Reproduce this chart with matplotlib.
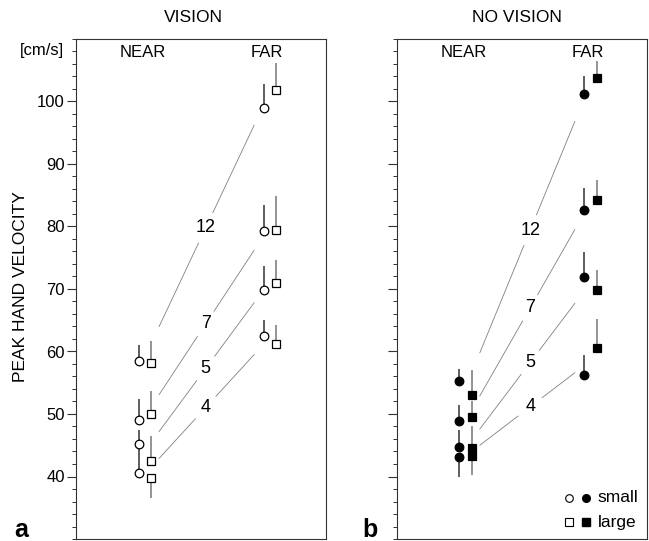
import matplotlib.pyplot as plt
from matplotlib.ticker import MultipleLocator, FixedLocator

plt.rcParams['font.family'] = ['Liberation Sans', 'DejaVu Sans']

# sizes (labels of the connecting lines), order shared by every list below
sizes = ['12', '7', '5', '4']

# VISION panel: means and end of the one-sided error bar
vis_near_small = [58.5, 49.0, 45.2, 40.5]
vis_near_small_err = [61.1, 52.4, 47.4, 44.8]
vis_near_large = [58.2, 50.0, 42.4, 39.7]
vis_near_large_err = [61.6, 53.6, 46.5, 36.6]
vis_far_small = [99.0, 79.3, 69.8, 62.4]
vis_far_small_err = [102.8, 83.4, 73.6, 65.0]
vis_far_large = [101.9, 79.4, 71.0, 61.2]
vis_far_large_err = [106.2, 84.8, 74.6, 64.3]
vis_line_near = [64.0, 53.1, 47.2, 42.9]
vis_line_far = [96.2, 76.2, 67.8, 59.5]

# NO VISION panel
nv_near_small = [55.2, 48.9, 44.7, 43.1]
nv_near_small_err = [57.2, 51.5, 47.5, 40.0]
nv_near_large = [53.0, 49.5, 44.6, 43.2]
nv_near_large_err = [57.1, 52.0, 48.1, 40.3]
nv_far_small = [101.2, 82.7, 71.9, 56.3]
nv_far_small_err = [104.1, 86.2, 75.9, 59.4]
nv_far_large = [103.8, 84.2, 69.8, 60.6]
nv_far_large_err = [106.4, 87.4, 73.1, 65.2]
nv_line_near = [59.8, 52.9, 47.6, 45.0]
nv_line_far = [96.8, 79.5, 67.7, 56.6]

# x positions: near / far, small (circle) and large (square) side by side
X_NEAR, X_FAR, OFFSET = 1.0, 3.0, 0.2
LINE_X0, LINE_X1 = 1.33, 2.85

fig = plt.figure(figsize=(6.49, 5.41), dpi=100)
ax1 = fig.add_axes([76 / 649, 2 / 541, 250 / 649, 500 / 541])
ax2 = fig.add_axes([396.7 / 649, 2 / 541, 250 / 649, 500 / 541])


def draw_panel(ax, filled, near_s, near_s_err, near_l, near_l_err,
               far_s, far_s_err, far_l, far_l_err, line_near, line_far, t_lab):
    face = 'black' if filled else 'white'
    groups = [
        (X_NEAR, near_s, near_s_err, 'o', '#333333'),
        (X_NEAR + OFFSET, near_l, near_l_err, 's', '#777777'),
        (X_FAR, far_s, far_s_err, 'o', '#333333'),
        (X_FAR + OFFSET, far_l, far_l_err, 's', '#777777'),
    ]
    for x, vals, errs, mk, bar_col in groups:
        xs = [x] * len(vals)
        ax.vlines(xs, vals, errs, color=bar_col, lw=1.1, zorder=2)
        ax.plot(xs, vals, ls='none', marker=mk, ms=6.2 if mk == 'o' else 6.0,
                mfc=face, mec='black', mew=0.9, zorder=3)

    # thin lines joining near and far, labelled with the size
    for lab, y0, y1 in zip(sizes, line_near, line_far):
        ax.plot([LINE_X0, LINE_X1], [y0, y1], color='#808080', lw=0.6, zorder=1)
        xm = LINE_X0 + t_lab * (LINE_X1 - LINE_X0)
        ym = y0 + t_lab * (y1 - y0)
        ax.text(xm, ym, lab, fontsize=13, ha='center', va='center', zorder=2,
                bbox=dict(boxstyle='circle,pad=0.35', fc='white', ec='none'))

    ax.text(1.07, 107.9, 'NEAR', fontsize=12, ha='center', va='center')
    ax.text(3.06, 107.9, 'FAR', fontsize=12, ha='center', va='center')

    ax.set_xlim(0, 4)
    ax.set_ylim(30, 110)
    ax.set_xticks([])
    ax.yaxis.set_major_locator(FixedLocator([40, 50, 60, 70, 80, 90, 100]))
    ax.yaxis.set_minor_locator(MultipleLocator(2))
    ax.tick_params(axis='y', which='major', length=6.5, width=0.8,
                   labelsize=12, pad=1.5, color='#333333')
    ax.tick_params(axis='y', which='minor', length=3, width=0.7, color='#333333')
    for sp in ax.spines.values():
        sp.set_linewidth(0.8)
        sp.set_color('#333333')


draw_panel(ax1, False, vis_near_small, vis_near_small_err, vis_near_large,
           vis_near_large_err, vis_far_small, vis_far_small_err, vis_far_large,
           vis_far_large_err, vis_line_near, vis_line_far, 0.49)
draw_panel(ax2, True, nv_near_small, nv_near_small_err, nv_near_large,
           nv_near_large_err, nv_far_small, nv_far_small_err, nv_far_large,
           nv_far_large_err, nv_line_near, nv_line_far, 0.53)
ax2.tick_params(axis='y', labelleft=False)

# legend drawn by hand in the lower right corner of panel b
for yy, mk, lab in [(0.082, 'o', 'small'), (0.034, 's', 'large')]:
    ax2.plot([0.689], [yy], transform=ax2.transAxes, marker=mk, ms=5.5,
             mfc='white', mec='black', mew=0.8, ls='none')
    ax2.plot([0.757], [yy], transform=ax2.transAxes, marker=mk, ms=5.5,
             mfc='black', mec='black', ls='none')
    ax2.text(0.805, yy, lab, transform=ax2.transAxes, fontsize=12.5,
             ha='left', va='center')

fig.text(193 / 649, 1 - 18 / 541, 'VISION', fontsize=12.5, ha='center', va='center')
fig.text(516.7 / 649, 1 - 18 / 541, 'NO VISION', fontsize=12.5, ha='center', va='center')
fig.text(64 / 649, 1 - 50 / 541, '[cm/s]', fontsize=12, ha='right', va='center')
fig.text(21 / 649, 1 - 287 / 541, 'PEAK HAND VELOCITY', fontsize=12.5,
         rotation=90, ha='center', va='center')
fig.text(21 / 649, 1 - 537 / 541, 'a', fontsize=18, fontweight='bold',
         ha='center', va='baseline')
fig.text(370 / 649, 1 - 537 / 541, 'b', fontsize=18, fontweight='bold',
         ha='center', va='baseline')

fig.savefig('out.png', dpi=100)
plt.close(fig)
